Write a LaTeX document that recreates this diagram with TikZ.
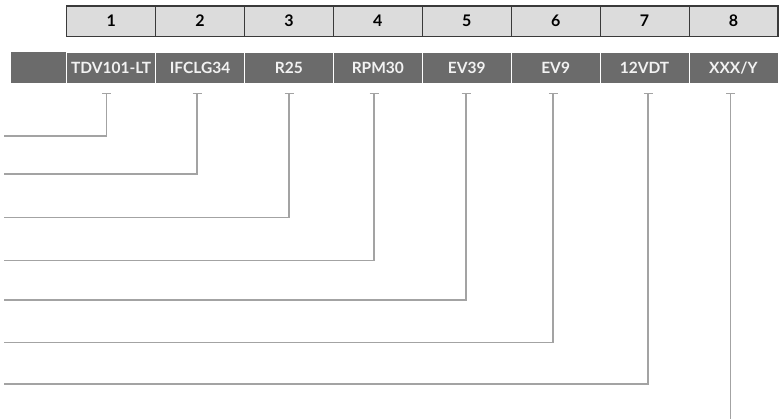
\documentclass[tikz,border=0pt]{standalone}
\usepackage{fontspec}
\setmainfont{Lato}
\definecolor{topfill}{HTML}{DCDCDC}
\definecolor{topline}{HTML}{3A3A3A}
\definecolor{darkfill}{HTML}{6B6B6B}
\definecolor{darktext}{HTML}{F2F2F2}
\definecolor{wire}{HTML}{A3A3A3}
\begin{document}
\begin{tikzpicture}[x=1pt,y=-1pt,
  topcell/.style={draw=topline, line width=0.9pt, fill=topfill, minimum width=88.9pt, minimum height=30pt, inner sep=0pt, font=\fontsize{16}{18}\selectfont\bfseries, text=black},
  darkcell/.style={draw=white, line width=0.8pt, fill=darkfill, minimum width=88.9pt, minimum height=31pt, inner sep=0pt, font=\fontsize{15.5}{18}\selectfont\bfseries, text=darktext},
  wireline/.style={draw=wire, line width=1.8pt},
  stemcap/.style={draw=wire, line width=1.5pt}]
\useasboundingbox (0,0) rectangle (782,419);
\fill[white] (0,0) rectangle (782,419);
% first blank dark cell
\node[darkcell, minimum width=55.7pt, draw=none] (d0) at (38.85,67.8) {};
\foreach \k/\lab in {1/TDV101-LT,2/IFCLG34,3/R25,4/RPM30,5/EV39,6/EV9,7/12VDT,8/{XXX/Y}}{
  \pgfmathsetmacro{\cx}{66.7+88.9*(\k-1)+44.45}
  \node[topcell] (n\k) at (\cx,21) {\k};
  \node[darkcell] (d\k) at (\cx,67.8) {\lab};
}
\draw[topline, line width=0.9pt] (n1.north west) rectangle (n8.south east);
% connectors
\foreach \i/\sx/\ly in {1/106.5/136,2/197/174.3,3/289/217.5,4/374/260.5,5/466/300,6/553.3/342.5,7/648.3/383.7}{
  \coordinate (c\i) at (\sx,93.3);
  \coordinate (e\i) at (4,\ly);
  \draw[stemcap] ([xshift=-4.5pt]c\i) -- ([xshift=4.5pt]c\i);
  \draw[wireline] (c\i) |- (e\i);
}
\coordinate (c8) at (730.5,93.3);
\coordinate (e8) at (730.5,419);
\draw[stemcap] ([xshift=-4.5pt]c8) -- ([xshift=4.5pt]c8);
\draw[wireline] (c8) -- (e8);
\end{tikzpicture}
\end{document}
